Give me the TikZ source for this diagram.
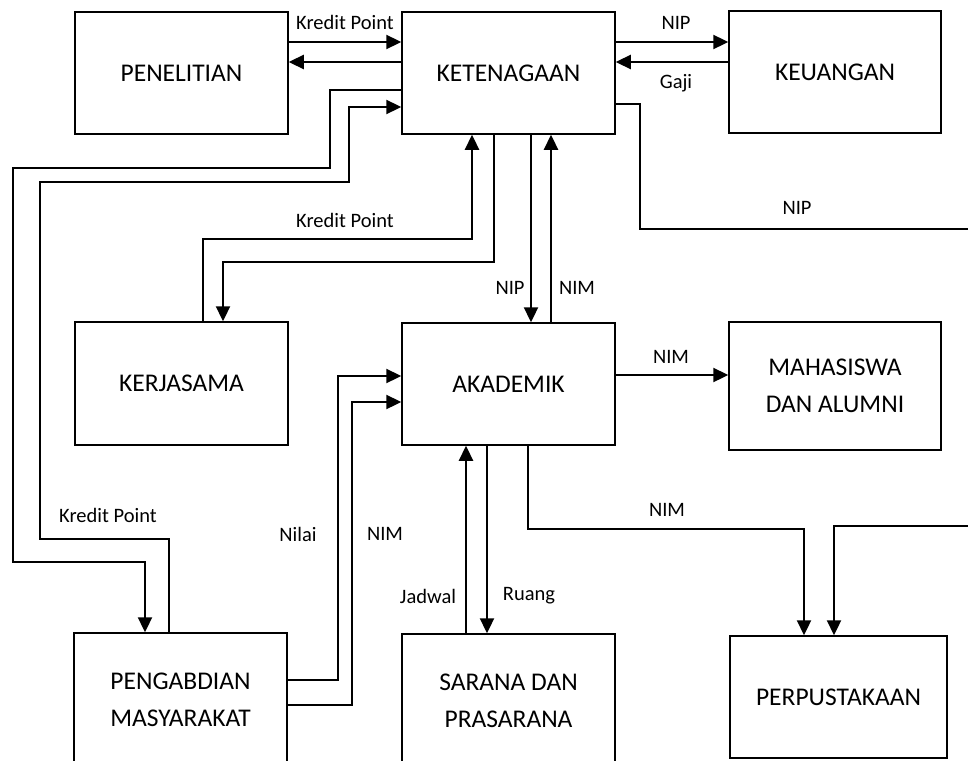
\documentclass[tikz,border=0pt]{standalone}
\usepackage{fontspec}
\setmainfont{Carlito}
\usetikzlibrary{arrows.meta}
\tikzset{
	unit/.style={draw, line width=1.5pt, align=center, inner sep=0pt, font=\fontsize{25.5}{37}\selectfont},
	flow/.style={line width=2.3pt, -{Triangle[length=15pt, width=14pt]}},
	lbl/.style={font=\fontsize{20.5}{22}\selectfont, inner sep=0pt}
}
\begin{document}
\begin{tikzpicture}[x=1pt, y=-1pt]
	\useasboundingbox (0, 0) rectangle (968, 760);
	\clip (0, 0) rectangle (968, 760);
	% bagian
	\node[unit, minimum width=213pt, minimum height=122pt] (pen) at (181.5, 73) {PENELITIAN};
	\node[unit, minimum width=213pt, minimum height=122pt] (ket) at (508.5, 73) {KETENAGAAN};
	\node[unit, minimum width=212pt, minimum height=122pt] (keu) at (835, 72) {KEUANGAN};
	\node[unit, minimum width=213pt, minimum height=123pt] (ker) at (181.5, 383.5) {KERJASAMA};
	\node[unit, minimum width=213pt, minimum height=122pt] (aka) at (508.5, 384) {AKADEMIK};
	\node[unit, minimum width=212pt, minimum height=128pt] (mhs) at (835, 386) {MAHASISWA\\DAN ALUMNI};
	\node[unit, minimum width=213pt, minimum height=134pt] (peng) at (180.5, 700) {PENGABDIAN\\MASYARAKAT};
	\node[unit, minimum width=213pt, minimum height=134pt] (sar) at (508.5, 701) {SARANA DAN\\PRASARANA};
	\node[unit, minimum width=217pt, minimum height=122pt] (perp) at (838.5, 697) {PERPUSTAKAAN};
	\coordinate (out1) at (968, 229);
	\coordinate (out2) at (968, 526);
	% aliran data
	\draw[flow] (pen.east |- 0,42) -- (ket.west |- 0,42);
	\draw[flow] (ket.west |- 0,62) -- (pen.east |- 0,62);
	\draw[flow] (ket.east |- 0,42) -- (keu.west |- 0,42);
	\draw[flow] (keu.west |- 0,62) -- (ket.east |- 0,62);
	\draw[flow] (ket.west |- 0,90) -| (330, 168) -| (13, 562) -| (peng.north -| 145,0);
	\draw[flow] (peng.north -| 169,0) |- (40, 539) |- (349, 182) |- (ket.west |- 0,107);
	\draw[flow] (ker.north -| 203,0) |- (472, 239) -- (ket.south -| 472,0);
	\draw[flow] (ket.south -| 494,0) |- (223, 262) -- (ker.north -| 223,0);
	\draw[flow] (ket.south -| 531,0) -- (aka.north -| 531,0);
	\draw[flow] (aka.north -| 551,0) -- (ket.south -| 551,0);
	\draw[line width=2.3pt] (ket.east |- 0,104) -| (640, 229) -- (out1);
	\draw[flow] (out2) -| (perp.north -| 834,0);
	\draw[flow] (aka.east |- 0,375) -- (mhs.west |- 0,375);
	\draw[flow] (peng.east |- 0,680) -| (338, 376) -- (aka.west |- 0,376);
	\draw[flow] (peng.east |- 0,705) -| (352, 402) -- (aka.west |- 0,402);
	\draw[flow] (sar.north -| 466,0) -- (aka.south -| 466,0);
	\draw[flow] (aka.south -| 487,0) -- (sar.north -| 487,0);
	\draw[flow] (aka.south -| 528,0) |- (804, 529) -- (perp.north -| 804,0);
	% keterangan
	\node[lbl] (l1) at (345, 22) {Kredit Point};
	\node[lbl] (l2) at (676, 23) {NIP};
	\node[lbl] (l3) at (676, 83) {Gaji};
	\node[lbl] (l4) at (345, 220) {Kredit Point};
	\node[lbl] (l5) at (797, 208) {NIP};
	\node[lbl] (l6) at (510, 288) {NIP};
	\node[lbl] (l7) at (577, 288) {NIM};
	\node[lbl] (l8) at (671, 357) {NIM};
	\node[lbl] (l9) at (108, 515) {Kredit Point};
	\node[lbl] (l10) at (298, 534) {Nilai};
	\node[lbl] (l11) at (385, 534) {NIM};
	\node[lbl] (l12) at (428, 596) {Jadwal};
	\node[lbl] (l13) at (529, 596) {Ruang};
	\node[lbl] (l14) at (667, 510) {NIM};
\end{tikzpicture}
\end{document}
